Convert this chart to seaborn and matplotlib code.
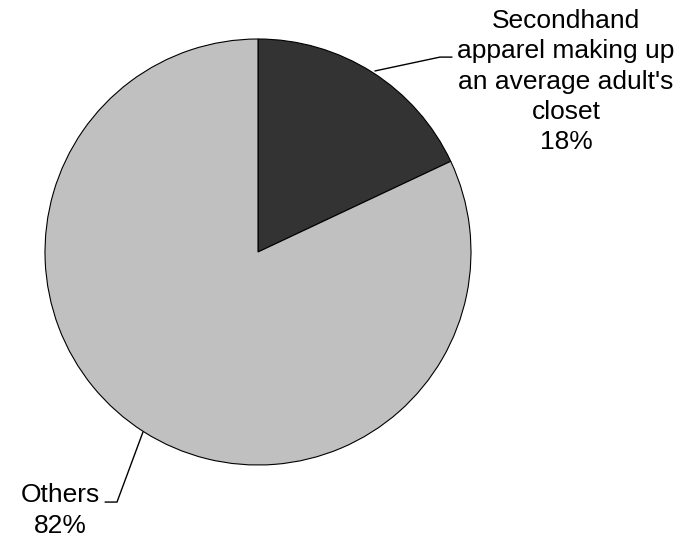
import matplotlib
matplotlib.use("Agg")
import matplotlib.pyplot as plt
import seaborn as sns

# chart data
categories = ["Secondhand\napparel making up\nan average adult's\ncloset", "Others"]
shares = [18, 82]
colors = ["#333333", "#c0c0c0"]

sns.set_theme(style="white")
plt.rcParams['font.family'] = ['Liberation Sans', 'DejaVu Sans']

W, H = 693, 538
fig = plt.figure(figsize=(W / 100, H / 100), dpi=100)
cx, cy, r = 258, 252, 213  # pie centre and radius in pixels
ax = fig.add_axes([(cx - r) / W, (H - cy - r) / H, 2 * r / W, 2 * r / H])

wedges, _ = ax.pie(shares, colors=colors, startangle=90, counterclock=False,
                   radius=1.0, wedgeprops=dict(edgecolor="black", linewidth=0.8))
ax.set_xlim(-1, 1)
ax.set_ylim(-1, 1)
ax.set_aspect("equal")
ax.axis("off")

# leader lines and labels
lines = [
    [(0.549, 0.850), (0.854, 0.915), (0.911, 0.915)],
    [(-0.540, -0.845), (-0.662, -1.174), (-0.718, -1.174)],
]
label_pos = [(1.446, 0.800), (-0.930, -1.214)]
for cat, val, pts, (tx, ty) in zip(categories, shares, lines, label_pos):
    xs, ys = zip(*pts)
    ax.plot(xs, ys, color="black", linewidth=1.0, clip_on=False)
    ax.text(tx, ty, f"{cat}\n{val}%", ha="center", va="center",
            fontsize=19, linespacing=1.33, color="black")

fig.savefig("out.png", dpi=100)
